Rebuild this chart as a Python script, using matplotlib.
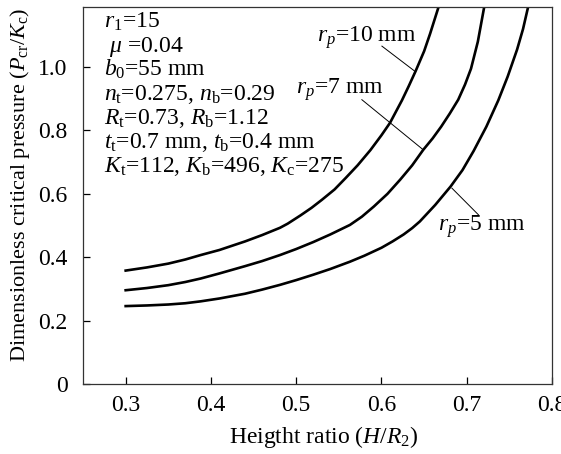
import matplotlib
matplotlib.use("Agg")
import matplotlib.pyplot as plt

# values
h_ratio_10 = [0.30, 0.325, 0.35, 0.37, 0.388, 0.41, 0.44, 0.46, 0.481, 0.49, 0.505, 0.518, 0.530,
              0.545, 0.558, 0.572, 0.587, 0.600, 0.610, 0.624, 0.632, 0.640, 0.650, 0.657, 0.667, 0.672]
pcr_10 = [0.358, 0.368, 0.380, 0.393, 0.407, 0.423, 0.450, 0.470, 0.493, 0.506, 0.532, 0.556, 0.581,
          0.614, 0.650, 0.69, 0.738, 0.785, 0.824, 0.895, 0.94, 0.987, 1.05, 1.105, 1.19, 1.24]

h_ratio_7 = [0.30, 0.325, 0.35, 0.37, 0.388, 0.41, 0.44, 0.46, 0.481, 0.50, 0.52, 0.54, 0.563, 0.577,
             0.591, 0.607, 0.622, 0.636, 0.649, 0.660, 0.670, 0.680, 0.690, 0.698, 0.705, 0.713, 0.7205, 0.726]
pcr_7 = [0.296, 0.303, 0.312, 0.322, 0.333, 0.349, 0.372, 0.388, 0.407, 0.426, 0.448, 0.472, 0.502, 0.528,
         0.560, 0.600, 0.645, 0.690, 0.739, 0.775, 0.812, 0.853, 0.897, 0.945, 0.995, 1.08, 1.19, 1.27]

h_ratio_5 = [0.30, 0.325, 0.35, 0.37, 0.388, 0.41, 0.44, 0.46, 0.481, 0.50, 0.52, 0.54, 0.563, 0.580,
             0.600, 0.613, 0.626, 0.636, 0.645, 0.663, 0.681, 0.695, 0.708, 0.723, 0.737, 0.748, 0.759,
             0.766, 0.772, 0.777]
pcr_5 = [0.246, 0.248, 0.251, 0.255, 0.261, 0.270, 0.285, 0.298, 0.313, 0.328, 0.345, 0.363, 0.386, 0.405,
         0.430, 0.450, 0.472, 0.492, 0.513, 0.565, 0.623, 0.675, 0.735, 0.812, 0.895, 0.97, 1.055,
         1.12, 1.19, 1.25]

x_ticks = [0.3, 0.4, 0.5, 0.6, 0.7, 0.8]
x_labels = ["0.3", "0.4", "0.5", "0.6", "0.7", "0.8"]
y_ticks = [0, 0.2, 0.4, 0.6, 0.8, 1.0]
y_labels = ["0", "0.2", "0.4", "0.6", "0.8", "1.0"]

params = [r"$r_1$=15",
          r" $\mu$ =0.04",
          r"$b_0$=55 mm",
          r"$n_\mathrm{t}$=0.275, $n_\mathrm{b}$=0.29",
          r"$R_\mathrm{t}$=0.73, $R_\mathrm{b}$=1.12",
          r"$t_\mathrm{t}$=0.7 mm, $t_\mathrm{b}$=0.4 mm",
          r"$K_\mathrm{t}$=112, $K_\mathrm{b}$=496, $K_\mathrm{c}$=275"]

plt.rcParams['font.family'] = ['Liberation Serif', 'DejaVu Serif']
plt.rcParams['mathtext.fontset'] = 'custom'
plt.rcParams['mathtext.rm'] = 'Liberation Serif'
plt.rcParams['mathtext.it'] = 'Liberation Serif:italic'
plt.rcParams['mathtext.bf'] = 'Liberation Serif:bold'

fig = plt.figure(figsize=(5.61, 4.54), dpi=100)
ax = fig.add_axes([0.148, 0.154, 0.836, 0.831])

lw = 1.9
for xs, ys in [(h_ratio_10, pcr_10), (h_ratio_7, pcr_7), (h_ratio_5, pcr_5)]:
    ax.plot(xs, ys, color='k', lw=lw, solid_joinstyle='round')

ax.set_xlim(0.25, 0.8)
ax.set_ylim(0, 1.19)
ax.set_xticks(x_ticks)
ax.set_xticklabels(x_labels)
ax.set_yticks(y_ticks)
ax.set_yticklabels(y_labels)
ax.tick_params(direction='in', length=5, width=0.9, labelsize=17)
ax.tick_params(axis='x', pad=8)
ax.tick_params(axis='y', pad=11)
for s in ax.spines.values():
    s.set_linewidth(0.9)
    s.set_color('#333333')

ax.set_xlabel(r"Heigtht ratio ($H$/$R_2$)", fontsize=17)
ax.xaxis.set_label_coords(0.514, -0.105)
ax.set_ylabel(r"Dimensionless critical pressure ($P_\mathrm{cr}$/$K_\mathrm{c}$)", fontsize=16)
ax.yaxis.set_label_coords(-0.108, 0.528)

# parameter block
for i, t in enumerate(params):
    ax.text(0.045, 0.9435 - i * 0.0634, t, transform=ax.transAxes,
            fontsize=17, va='baseline', ha='left')

# curve labels with leader lines
ax.text(0.583, 1.093, r"$r_p$=10 mm", fontsize=17, ha='center', va='center')
ax.plot([0.6005, 0.640], [1.066, 0.985], color='k', lw=0.7)
ax.text(0.551, 0.929, r"$r_p$=7 mm", fontsize=17, ha='center', va='center')
ax.plot([0.577, 0.649], [0.897, 0.739], color='k', lw=0.7)
ax.text(0.717, 0.497, r"$r_p$=5 mm", fontsize=17, ha='center', va='center')
ax.plot([0.6826, 0.7137], [0.618, 0.534], color='k', lw=0.7)

plt.savefig("out.png", dpi=100)
